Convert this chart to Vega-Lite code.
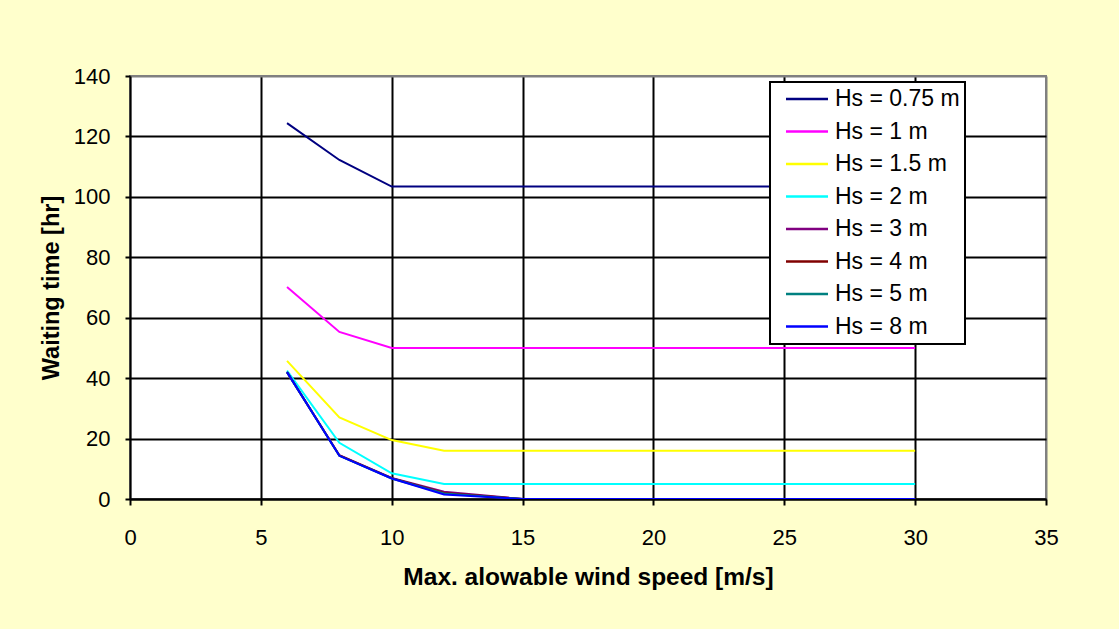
{
  "$schema": "https://vega.github.io/schema/vega-lite/v6.json",
  "width": 916,
  "height": 423,
  "autosize": {"type": "none"},
  "padding": {"left": 130, "top": 76, "right": 73, "bottom": 130},
  "background": "#FFFFCC",
  "config": {
    "font": "Liberation Sans",
    "view": {"fill": "white", "stroke": "#808080", "strokeWidth": 2},
    "legend": {"strokeWidth": 2}
  },
  "data": {
    "values": [
      {"hs": "Hs = 0.75 m", "o": 1, "x": 6, "y": 124.4},
      {"hs": "Hs = 0.75 m", "o": 1, "x": 8, "y": 112.2},
      {"hs": "Hs = 0.75 m", "o": 1, "x": 10, "y": 103.4},
      {"hs": "Hs = 0.75 m", "o": 1, "x": 12, "y": 103.4},
      {"hs": "Hs = 0.75 m", "o": 1, "x": 15, "y": 103.4},
      {"hs": "Hs = 0.75 m", "o": 1, "x": 20, "y": 103.4},
      {"hs": "Hs = 0.75 m", "o": 1, "x": 25, "y": 103.4},
      {"hs": "Hs = 0.75 m", "o": 1, "x": 30, "y": 103.4},
      {"hs": "Hs = 1 m", "o": 2, "x": 6, "y": 70.2},
      {"hs": "Hs = 1 m", "o": 2, "x": 8, "y": 55.3},
      {"hs": "Hs = 1 m", "o": 2, "x": 10, "y": 50},
      {"hs": "Hs = 1 m", "o": 2, "x": 12, "y": 50},
      {"hs": "Hs = 1 m", "o": 2, "x": 15, "y": 50},
      {"hs": "Hs = 1 m", "o": 2, "x": 20, "y": 50},
      {"hs": "Hs = 1 m", "o": 2, "x": 25, "y": 50},
      {"hs": "Hs = 1 m", "o": 2, "x": 30, "y": 50},
      {"hs": "Hs = 1.5 m", "o": 3, "x": 6, "y": 45.7},
      {"hs": "Hs = 1.5 m", "o": 3, "x": 8, "y": 27},
      {"hs": "Hs = 1.5 m", "o": 3, "x": 10, "y": 19.5},
      {"hs": "Hs = 1.5 m", "o": 3, "x": 12, "y": 16},
      {"hs": "Hs = 1.5 m", "o": 3, "x": 15, "y": 16},
      {"hs": "Hs = 1.5 m", "o": 3, "x": 20, "y": 16},
      {"hs": "Hs = 1.5 m", "o": 3, "x": 25, "y": 16},
      {"hs": "Hs = 1.5 m", "o": 3, "x": 30, "y": 16},
      {"hs": "Hs = 2 m", "o": 4, "x": 6, "y": 42.5},
      {"hs": "Hs = 2 m", "o": 4, "x": 8, "y": 18.6},
      {"hs": "Hs = 2 m", "o": 4, "x": 10, "y": 8.5},
      {"hs": "Hs = 2 m", "o": 4, "x": 12, "y": 5},
      {"hs": "Hs = 2 m", "o": 4, "x": 15, "y": 5},
      {"hs": "Hs = 2 m", "o": 4, "x": 20, "y": 5},
      {"hs": "Hs = 2 m", "o": 4, "x": 25, "y": 5},
      {"hs": "Hs = 2 m", "o": 4, "x": 30, "y": 5},
      {"hs": "Hs = 3 m", "o": 5, "x": 6, "y": 42},
      {"hs": "Hs = 3 m", "o": 5, "x": 8, "y": 14.5},
      {"hs": "Hs = 3 m", "o": 5, "x": 10, "y": 7},
      {"hs": "Hs = 3 m", "o": 5, "x": 12, "y": 2.4},
      {"hs": "Hs = 3 m", "o": 5, "x": 15, "y": 0},
      {"hs": "Hs = 3 m", "o": 5, "x": 20, "y": 0},
      {"hs": "Hs = 3 m", "o": 5, "x": 25, "y": 0},
      {"hs": "Hs = 3 m", "o": 5, "x": 30, "y": 0},
      {"hs": "Hs = 4 m", "o": 6, "x": 6, "y": 42},
      {"hs": "Hs = 4 m", "o": 6, "x": 8, "y": 14.4},
      {"hs": "Hs = 4 m", "o": 6, "x": 10, "y": 6.9},
      {"hs": "Hs = 4 m", "o": 6, "x": 12, "y": 2},
      {"hs": "Hs = 4 m", "o": 6, "x": 15, "y": 0},
      {"hs": "Hs = 4 m", "o": 6, "x": 20, "y": 0},
      {"hs": "Hs = 4 m", "o": 6, "x": 25, "y": 0},
      {"hs": "Hs = 4 m", "o": 6, "x": 30, "y": 0},
      {"hs": "Hs = 5 m", "o": 7, "x": 6, "y": 42},
      {"hs": "Hs = 5 m", "o": 7, "x": 8, "y": 14.3},
      {"hs": "Hs = 5 m", "o": 7, "x": 10, "y": 6.8},
      {"hs": "Hs = 5 m", "o": 7, "x": 12, "y": 1.8},
      {"hs": "Hs = 5 m", "o": 7, "x": 15, "y": 0},
      {"hs": "Hs = 5 m", "o": 7, "x": 20, "y": 0},
      {"hs": "Hs = 5 m", "o": 7, "x": 25, "y": 0},
      {"hs": "Hs = 5 m", "o": 7, "x": 30, "y": 0},
      {"hs": "Hs = 8 m", "o": 8, "x": 6, "y": 42},
      {"hs": "Hs = 8 m", "o": 8, "x": 8, "y": 14.3},
      {"hs": "Hs = 8 m", "o": 8, "x": 10, "y": 6.8},
      {"hs": "Hs = 8 m", "o": 8, "x": 12, "y": 1.5},
      {"hs": "Hs = 8 m", "o": 8, "x": 15, "y": 0},
      {"hs": "Hs = 8 m", "o": 8, "x": 20, "y": 0},
      {"hs": "Hs = 8 m", "o": 8, "x": 25, "y": 0},
      {"hs": "Hs = 8 m", "o": 8, "x": 30, "y": 0}
    ]
  },
  "mark": {"type": "line", "strokeWidth": 2, "clip": true},
  "encoding": {
    "x": {
      "field": "x",
      "type": "quantitative",
      "scale": {"domain": [0, 35], "nice": false, "zero": false},
      "axis": {
        "title": "Max. alowable wind speed [m/s]",
        "values": [0, 5, 10, 15, 20, 25, 30, 35],
        "grid": true,
        "gridColor": {"condition": {"test": "datum.value === 35 || datum.value === 0", "value": "#808080"}, "value": "black"},
        "gridOpacity": 1,
        "gridWidth": 2,
        "domainColor": "black",
        "domainWidth": 2,
        "tickColor": "black",
        "tickWidth": 2,
        "tickSize": 6,
        "labelFontSize": 22,
        "labelColor": "black",
        "labelPadding": 22,
        "labelFlush": false,
        "titleFontSize": 24.5,
        "titleFontWeight": "bold",
        "titleColor": "black",
        "titlePadding": 17
      }
    },
    "y": {
      "field": "y",
      "type": "quantitative",
      "scale": {"domain": [0, 140], "nice": false},
      "axis": {
        "title": "Waiting time [hr]",
        "values": [0, 20, 40, 60, 80, 100, 120, 140],
        "grid": true,
        "gridColor": {"condition": {"test": "datum.value === 140", "value": "#808080"}, "value": "black"},
        "gridOpacity": 1,
        "gridWidth": 2,
        "domainColor": "black",
        "domainWidth": 2,
        "tickColor": "black",
        "tickWidth": 2,
        "tickSize": 5,
        "labelFontSize": 22,
        "labelColor": "black",
        "labelPadding": 15,
        "labelFlush": false,
        "titleFontSize": 23.5,
        "titleFontWeight": "bold",
        "titleColor": "black",
        "titlePadding": 10
      }
    },
    "color": {
      "field": "hs",
      "type": "nominal",
      "sort": ["Hs = 0.75 m", "Hs = 1 m", "Hs = 1.5 m", "Hs = 2 m", "Hs = 3 m", "Hs = 4 m", "Hs = 5 m", "Hs = 8 m"],
      "scale": {
        "domain": ["Hs = 0.75 m", "Hs = 1 m", "Hs = 1.5 m", "Hs = 2 m", "Hs = 3 m", "Hs = 4 m", "Hs = 5 m", "Hs = 8 m"],
        "range": ["#000080", "#FF00FF", "#FFFF00", "#00FFFF", "#800080", "#800000", "#008080", "#0000FF"]
      },
      "legend": {
        "title": null,
        "orient": "none",
        "legendX": 640,
        "legendY": 6,
        "fillColor": "white",
        "strokeColor": "black",
        "padding": 5,
        "symbolType": "M-2,0H2",
        "symbolSize": 441,
        "symbolStrokeWidth": 2.5,
        "symbolOffset": 20,
        "labelFontSize": 23,
        "labelColor": "black",
        "labelOffset": 16,
        "rowPadding": 8.5
      }
    },
    "order": {"field": "o"}
  }
}
